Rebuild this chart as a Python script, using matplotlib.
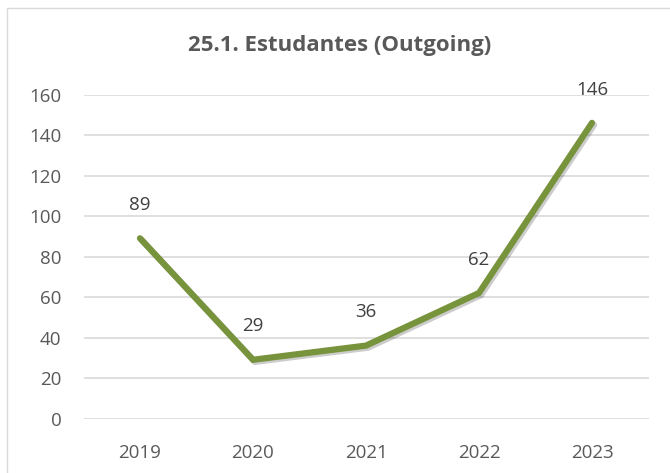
import matplotlib
matplotlib.use("Agg")
import matplotlib.pyplot as plt
import matplotlib.patheffects as pe
from matplotlib.patches import Rectangle

years = ["2019", "2020", "2021", "2022", "2023"]
values = [89, 29, 36, 62, 146]
yticks = [0, 20, 40, 60, 80, 100, 120, 140, 160]
title = "25.1. Estudantes (Outgoing)"

plt.rcParams['font.family'] = ['Open Sans', 'DejaVu Sans']

fig = plt.figure(figsize=(6.7, 4.73), dpi=100)
fig.patches.append(Rectangle((7/670, -0.1), 1.2, 1.1 - 8/473, transform=fig.transFigure,
                             fill=False, edgecolor="#D9D9D9", linewidth=1.0))
ax = fig.add_axes([83.5/670, 1 - 418.5/473, 565/670, 324/473])

x = list(range(len(years)))
ax.plot(x, values, color="#77933C", linewidth=4.5, solid_capstyle="round",
        solid_joinstyle="miter", zorder=3,
        path_effects=[pe.SimpleLineShadow(offset=(1.5, -1.5), shadow_color="black", alpha=0.2),
                      pe.Normal()])
for xi, v in zip(x, values):
    ax.annotate(str(v), (xi, v), xytext=(0, 24), textcoords="offset points",
                ha="center", va="center", fontsize=13.5, color="#404040")

ax.set_xlim(-0.5, len(years) - 0.5)
ax.set_ylim(0, 160)
ax.set_yticks(yticks)
ax.set_xticks(x)
ax.set_xticklabels(years)
ax.grid(axis="y", color="#D9D9D9", linewidth=1.2)
ax.set_axisbelow(True)
for s in ax.spines.values():
    s.set_visible(False)
ax.tick_params(axis="both", length=0, labelsize=13.5, colors="#595959")
ax.tick_params(axis="y", pad=16)
ax.tick_params(axis="x", pad=18.5)
fig.text(340/670, 1 - 45/473, title, ha="center", va="center", fontsize=16,
         fontweight="bold", color="#595959")

fig.savefig("out.png", dpi=100)
